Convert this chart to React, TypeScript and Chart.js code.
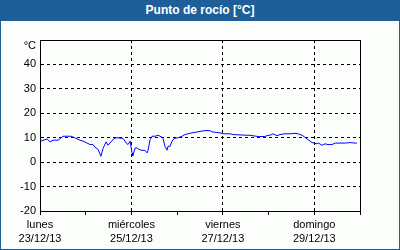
import React, { useEffect, useRef } from "react";
import { Chart, registerables } from "chart.js";

Chart.register(...registerables);

// hours since Mon 23/12/13 00:00
const hours = [
  0.5, 3.7, 5.3, 6.8, 9.5, 12.1, 16.3, 17.3, 18.9, 21, 22.6, 24.2, 26.3, 27.8, 28.9, 30.5, 32, 33.1, 34.7, 35.7,
  37.3, 38.9, 40.4, 43.6, 45.2, 46.2, 47.3, 48.3, 48.8, 49.9, 50.9, 52, 53.6, 55.1, 56.2, 56.7, 57.8, 58.8, 60.4,
  62, 64.1, 64.6, 65.6, 66.7, 67.2, 68.3, 69.3, 70.4, 72.5, 74.6, 76.1, 77.7, 79.8, 81.4, 84, 86.6, 89.3, 90.3,
  94.5, 96.1, 99.8, 101.3, 108.7, 110.3, 111.8, 114.5, 118.1, 119.7, 120.8, 122.3, 124.4, 126, 128.6, 131.3,
  133.9, 135.5, 137.6, 139.1, 140.7, 142.3, 143.3, 145.4, 146, 148.1, 149.6, 151.2, 153.3, 154.9, 160.1, 162.8,
  165.4, 166.4,
];
const dewPoint = [
  8.6, 9.5, 8.3, 9.0, 9.0, 10.6, 10.6, 10.3, 9.7, 9.0, 8.6, 8.0, 7.2, 7.2, 6.1, 5.2, 2.4, 5.6, 8.3, 6.9,
  8.3, 9.7, 10.0, 9.7, 7.9, 7.2, 8.6, 3.8, 2.7, 5.8, 5.8, 5.2, 4.8, 4.8, 3.8, 4.8, 9.2, 10.6, 10.6,
  11.0, 10.2, 9.7, 6.5, 4.9, 6.5, 6.5, 8.6, 9.7, 10.0, 10.6, 11.3, 11.6, 12.0, 12.2, 12.6, 12.9, 12.9, 12.4,
  12.0, 11.6, 11.6, 11.3, 11.0, 11.0, 10.8, 10.5, 10.5, 11.0, 11.0, 11.6, 10.8, 11.3, 11.6, 11.6,
  11.8, 11.6, 11.0, 10.2, 9.2, 8.3, 7.9, 7.5, 7.9, 6.9, 7.5, 7.2, 7.2, 7.8, 7.8, 8.0,
  7.8, 7.8,
];
const dayNames = ["lunes", "miércoles", "viernes", "domingo"];
const dayDates = ["23/12/13", "25/12/13", "27/12/13", "29/12/13"];
const yTicks = [-20, -10, 0, 10, 20, 30, 40, 50];
const yUnit = "°C";
const title = "Punto de rocío [°C]";

const FONT = "'Liberation Sans', Arial, sans-serif";

const boxPlugin = {
  id: "box",
  afterDraw(chart: any) {
    const { ctx, chartArea: a } = chart;
    ctx.save();
    ctx.strokeStyle = "#000";
    ctx.lineWidth = 1;
    ctx.setLineDash([]);
    ctx.strokeRect(Math.round(a.left) + 0.5, Math.round(a.top) + 0.5, Math.round(a.right - a.left), Math.round(a.bottom - a.top));
    ctx.restore();
  },
};

export default function App() {
  const ref = useRef<HTMLCanvasElement>(null);
  useEffect(() => {
    document.body.style.margin = "0";
    const data = hours.map((h, i) => ({ x: h, y: dewPoint[i] }));
    const chart = new Chart(ref.current!, {
      type: "line",
      data: {
        datasets: [
          {
            data,
            borderColor: "#0000ff",
            borderWidth: 1,
            pointRadius: 0,
            tension: 0,
            fill: false,
          },
        ],
      },
      options: {
        animation: false,
        responsive: false,
        devicePixelRatio: 1,
        layout: { padding: { top: 40, right: 40, left: 0, bottom: 0 } },
        plugins: { legend: { display: false }, tooltip: { enabled: false }, title: { display: false } },
        scales: {
          x: {
            type: "linear",
            min: 0,
            max: 168,
            afterFit: (s: any) => {
              s.height = 39;
            },
            border: { display: true, color: "#000", dash: [3, 3] },
            grid: {
              color: (c: any) => (c.tick && c.tick.value % 48 === 0 && c.tick.value > 0 && c.tick.value < 168 ? "#000" : "rgba(0,0,0,0)"),
              tickBorderDash: [],
              tickColor: "#000",
              tickLength: 4,
              drawTicks: true,
              lineWidth: 1,
            },
            ticks: {
              stepSize: 24,
              autoSkip: false,
              maxRotation: 0,
              padding: 3,
              color: "#000",
              font: { family: FONT, size: 11, lineHeight: "14px" },
              callback: (v: any) => {
                const i = Number(v) / 48;
                return Number.isInteger(i) && i < dayNames.length ? [dayNames[i], dayDates[i]] : "";
              },
            },
          },
          y: {
            min: yTicks[0],
            max: yTicks[yTicks.length - 1],
            afterFit: (s: any) => {
              s.width = 40;
            },
            afterBuildTicks: (s: any) => {
              s.ticks = yTicks.map((v) => ({ value: v }));
            },
            border: { display: true, color: "#000", dash: [3, 3] },
            grid: {
              color: (c: any) => (c.tick && c.tick.value > -20 && c.tick.value < 50 ? "#000" : "rgba(0,0,0,0)"),
              drawTicks: false,
              lineWidth: 1,
            },
            ticks: {
              autoSkip: false,
              padding: 4,
              color: "#000",
              font: { family: FONT, size: 11, lineHeight: "12px" },
              callback: (v: any) => (Number(v) === 50 ? ["", yUnit] : String(v)),
            },
          },
        },
      },
      plugins: [boxPlugin],
    });
    return () => chart.destroy();
  }, []);

  return (
    <div style={{ position: "fixed", left: 0, top: 0, width: 400, height: 250, background: "#fcfefc" }}>
      <canvas ref={ref} width={400} height={250} style={{ position: "absolute", left: 0, top: 0 }} />
      <div
        style={{
          position: "absolute",
          left: 0,
          top: 0,
          width: 400,
          height: 21,
          background: "#1f5f99",
          color: "#fff",
          font: `bold 12px ${FONT}`,
          lineHeight: "21px",
          textAlign: "center",
        }}
      >
        {title}
      </div>
      <div
        style={{
          position: "absolute",
          left: 0,
          top: 0,
          width: 400,
          height: 250,
          boxSizing: "border-box",
          border: "1px solid #1f5f99",
          pointerEvents: "none",
        }}
      />
    </div>
  );
}
